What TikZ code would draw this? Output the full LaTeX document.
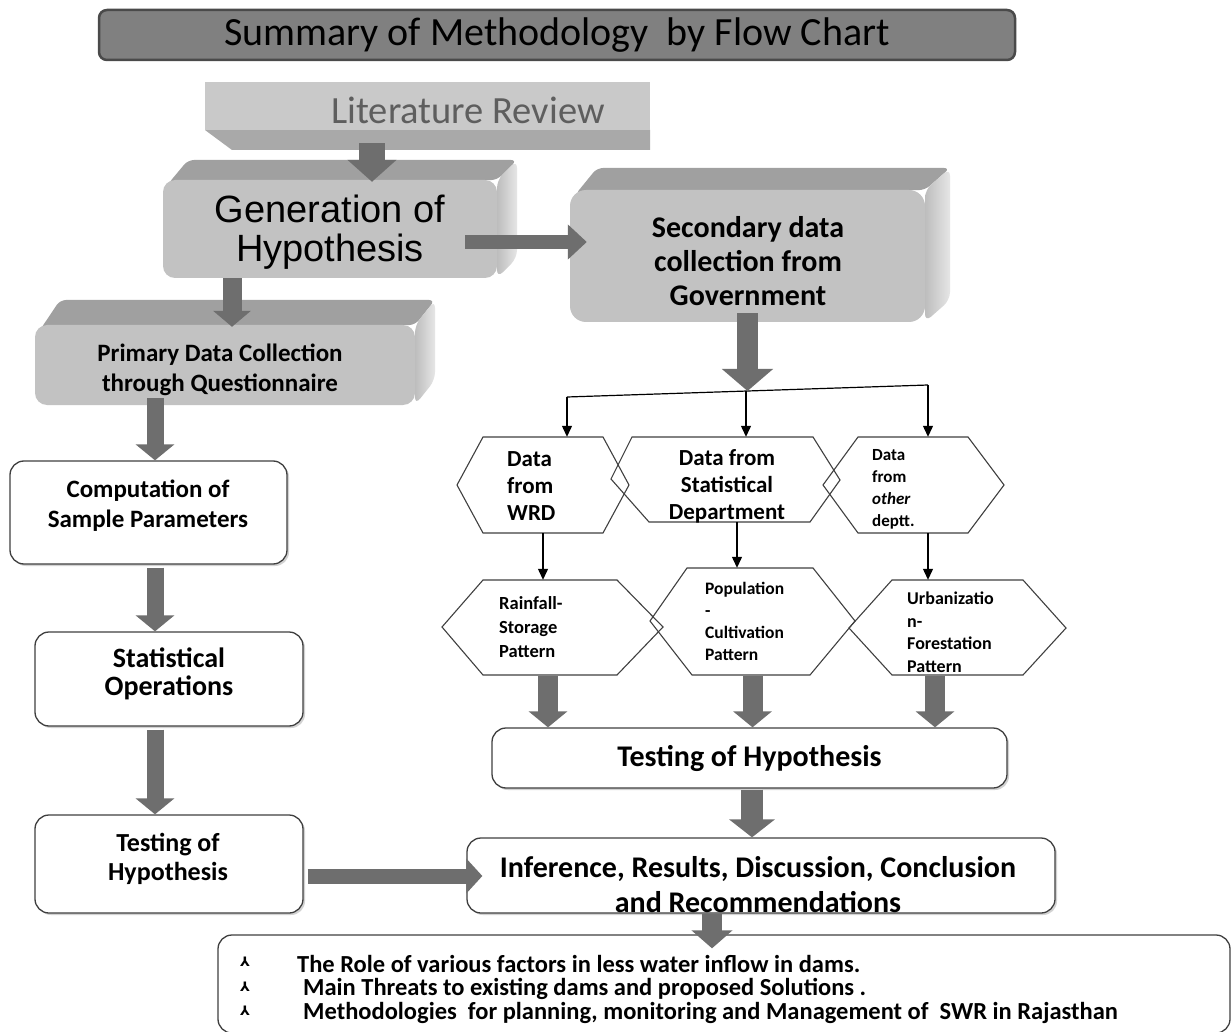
\documentclass[tikz,border=0pt]{standalone}
\usepackage{fontspec}
\setmainfont{Carlito}
\newfontfamily\arialfont{Liberation Sans}
\newfontfamily\symfont{DejaVu Sans}
\usetikzlibrary{arrows.meta,calc,shadows}
\definecolor{arrowgray}{HTML}{6E6E6E}
\definecolor{boxline}{HTML}{3F3F3F}
\definecolor{faceg}{HTML}{C2C2C2}
\definecolor{topg}{HTML}{A0A0A0}
\definecolor{sidel}{HTML}{BDBDBD}
\definecolor{sider}{HTML}{E6E6E6}
\definecolor{litface}{HTML}{C9C9C9}
\definecolor{litbevel}{HTML}{A9A9A9}
\definecolor{littext}{HTML}{5E5E5E}
\definecolor{titlefill}{HTML}{808080}
\definecolor{titleline}{HTML}{4A4A4A}
\begin{document}
\begin{tikzpicture}[x=1pt,y=-1pt,
  whitebox/.style={draw=boxline, line width=1.3pt, rounded corners=14pt, fill=white, inner sep=0pt,
     drop shadow={shadow xshift=2pt, shadow yshift=-2pt, fill=black!35, opacity=0.5}},
  frontface/.style={fill=faceg, rounded corners=12pt, inner sep=0pt},
  ghost/.style={inner sep=0pt},
  hexline/.style={draw=black!75, line width=1.1pt},
  thinarr/.style={draw=black, line width=1.2pt, -{Triangle[width=10pt,length=11pt]}},
  thinline/.style={draw=black, line width=1.2pt},
  barrow/.style n args={3}{draw=arrowgray, line width=#1pt, -{Triangle[width=#2pt,length=#3pt]}},
  bulletsym/.style={font=\symfont\bfseries\fontsize{13}{13}\selectfont},
  bottxt/.style={anchor=west, inner sep=0pt, font=\bfseries\fontsize{24.5}{26}\selectfont},
]
\useasboundingbox (0,0) rectangle (1232,1032);
\fill[white] (0,0) rectangle (1232,1032);

% ---------- title ----------
\node[draw=titleline, line width=2.5pt, fill=titlefill, rounded corners=8pt,
      minimum width=916pt, minimum height=50pt, inner sep=0pt,
      font=\fontsize{40}{44}\selectfont] (title) at (557,35) {Summary of Methodology\ \ by Flow Chart};

% ---------- literature review slab ----------
\fill[litbevel] (205,130) -- (650,130) -- (650,150) -- (232,150) -- cycle;
\node[fill=litface, minimum width=445pt, minimum height=48pt, inner sep=0pt] (lit) at (427.5,106) {};
\node[font=\fontsize{38.5}{40}\selectfont, text=littext] (litT) at (468,110) {Literature Review};

% ---------- Generation of hypothesis (3D) ----------
\fill[topg, rounded corners=6pt] (168,184) -- (188,160) -- (517,160) -- (497,180) -- cycle;
\shade[left color=sidel, right color=sider, rounded corners=8pt] (497,180) -- (517,160) -- (517,258) -- (497,278) -- cycle;
\node[frontface, minimum width=334pt, minimum height=98pt] (gen) at (330,229) {};
\node[font=\arialfont\fontsize{38}{39}\selectfont, align=center] (genT) at (330,232) {Generation of\\Hypothesis};

% ---------- Secondary data (3D) ----------
\fill[topg, rounded corners=6pt] (575,195) -- (597,168) -- (950,168) -- (925,190) -- cycle;
\shade[left color=sidel, right color=sider, rounded corners=8pt] (925,190) -- (950,168) -- (950,300) -- (925,322) -- cycle;
\node[frontface, minimum width=355pt, minimum height=132pt, rounded corners=16pt] (sec) at (747.5,256) {};
\node[align=center, font=\bfseries\fontsize{30}{34}\selectfont] (secT) at (748,261) {Secondary data\\collection from\\Government};

% ---------- Primary data (3D) ----------
\fill[topg, rounded corners=6pt] (40,330) -- (60,300) -- (435,300) -- (415,325) -- cycle;
\shade[left color=sidel, right color=sider, rounded corners=8pt] (415,325) -- (435,300) -- (435,380) -- (415,405) -- cycle;
\node[frontface, minimum width=380pt, minimum height=80pt] (prim) at (225,365) {};
\node[align=center, font=\bfseries\fontsize{25}{30}\selectfont] (primT) at (220,370) {Primary Data Collection\\through Questionnaire};

% ---------- left white boxes ----------
\node[whitebox, minimum width=277pt, minimum height=103pt] (comp) at (148.5,512.5) {};
\node[align=center, font=\bfseries\fontsize{25}{30}\selectfont] (compT) at (148,506) {Computation of\\Sample Parameters};

\node[whitebox, minimum width=268pt, minimum height=94pt] (stat) at (169,679) {};
\node[align=center, font=\bfseries\fontsize{28}{28}\selectfont] (statT) at (169,674) {Statistical\\Operations};

\node[whitebox, minimum width=268pt, minimum height=98pt] (testL) at (169,864) {};
\node[align=center, font=\bfseries\fontsize{26}{29}\selectfont] (testLT) at (168,859) {Testing of\\Hypothesis};

% ---------- right white boxes ----------
\node[whitebox, minimum width=515pt, minimum height=60pt, font=\bfseries\fontsize{30}{34}\selectfont] (testR) at (749.5,758) {Testing of Hypothesis};

\node[whitebox, minimum width=588pt, minimum height=75pt] (inf) at (761,875.5) {};
\node[align=center, font=\bfseries\fontsize{30}{35}\selectfont] (infT) at (758,885) {Inference, Results, Discussion, Conclusion\\and Recommendations};

\node[draw=boxline, line width=1.3pt, rounded corners=14pt, fill=white, inner sep=0pt,
      minimum width=1012pt, minimum height=98pt] (bot) at (724,984) {};
\node[bulletsym] (b1) at (245,962) {⅄};
\node[bulletsym] (b2) at (245,987) {⅄};
\node[bulletsym] (b3) at (245,1011) {⅄};
\node[bottxt] (l1) at (297,964) {The Role of various factors in less water inflow in dams.};
\node[bottxt] (l2) at (303,989) {Main Threats to existing dams and proposed Solutions .};
\node[bottxt] (l3) at (303,1013) {Methodologies\ \ for planning, monitoring and Management of\ \ SWR in Rajasthan};

% ---------- hexagons ----------
\node[ghost, minimum width=172pt, minimum height=96pt] (wrd) at (543,485) {};
\node[ghost, minimum width=230pt, minimum height=85pt] (sta) at (725,479.5) {};
\node[ghost, minimum width=181pt, minimum height=96pt] (oth) at (913.5,485) {};
\node[ghost, minimum width=221pt, minimum height=95pt] (rain) at (552.5,627.5) {};
\node[ghost, minimum width=205pt, minimum height=107pt] (pop) at (752.5,621.5) {};
\node[ghost, minimum width=217pt, minimum height=95pt] (urb) at (957.5,627.5) {};

\draw[hexline] (457,485) -- (483,437) -- (603,437) -- (629,485) -- (603,533) -- (483,533) -- cycle;
\draw[hexline] (611,479) -- (632,437) -- (813,437) -- (840,480) -- (810,522) -- (649,522) -- cycle;
\draw[hexline] (823,485) -- (858,437) -- (968,437) -- (1004,485) -- (968,533) -- (858,533) -- cycle;
\draw[hexline] (442,627) -- (483,580) -- (617,580) -- (663,627) -- (617,675) -- (483,675) -- cycle;
\draw[hexline] (650,621) -- (687,568) -- (813,568) -- (855,621) -- (810,675) -- (692,675) -- cycle;
\draw[hexline] (849,628) -- (892,580) -- (1023,580) -- (1066,628) -- (1023,675) -- (892,675) -- cycle;

\node[anchor=west, align=left, inner sep=0pt, font=\bfseries\fontsize{23}{27}\selectfont] (wrdT) at (507,486) {Data\\from\\WRD};
\node[align=center, inner sep=0pt, font=\bfseries\fontsize{23}{27}\selectfont] (staT) at (727,486) {Data from\\Statistical\\Department};
\node[anchor=west, align=left, inner sep=0pt, font=\bfseries\fontsize{17}{22}\selectfont] (othT) at (872,489) {Data\\from\\\textit{other}\\deptt.};
\node[anchor=west, align=left, inner sep=0pt, font=\bfseries\fontsize{18.5}{24}\selectfont] (rainT) at (499,627) {Rainfall-\\Storage\\Pattern};
\node[anchor=west, align=left, inner sep=0pt, font=\bfseries\fontsize{17.5}{22}\selectfont] (popT) at (705,621) {Population\\-\\Cultivation\\Pattern};
\node[anchor=west, align=left, inner sep=0pt, font=\bfseries\fontsize{18}{22.5}\selectfont] (urbT) at (907,632) {Urbanizatio\\n-\\Forestation\\Pattern};

% ---------- branch ----------
\coordinate (brL) at (567,397);
\coordinate (br) at (746,391);
\coordinate (brR) at (928,385);
\draw[thinline] (brL) -- (brR);
\draw[thinarr] (brL) -- (brL |- wrd.north);
\draw[thinarr] (br) -- (br |- sta.north);
\draw[thinarr] (brR) -- (brR |- oth.north);
\draw[thinarr] (wrd.south) -- (wrd.south |- rain.north);
\draw[thinarr] ([xshift=12pt]sta.south) -- ([xshift=-15.5pt]pop.north);
\draw[thinarr] ([xshift=14.5pt]oth.south) -- ([xshift=-29.5pt]urb.north);

% ---------- block arrows ----------
\draw[barrow={26}{48}{22}] ([xshift=-55.5pt,yshift=-13pt]lit.south) -- ([xshift=42pt,yshift=-2pt]gen.north);
\draw[barrow={14}{34}{19}] ([xshift=-32pt,yshift=-13pt]gen.east) -- ([xshift=17pt,yshift=14pt]sec.west);
\draw[barrow={19}{37}{16}] ([xshift=-98pt]gen.south) -- ([xshift=7pt,yshift=-2pt]prim.north);
\draw[barrow={17}{38}{16}] ([xshift=-70pt,yshift=7pt]prim.south) -- ([xshift=6.5pt]comp.north);
\draw[barrow={17}{38}{16}] ([xshift=6.5pt,yshift=-3pt]comp.south) -- ([xshift=-14pt]stat.north);
\draw[barrow={17}{38}{16}] ([xshift=-14pt,yshift=-3pt]stat.south) -- ([xshift=-14pt]testL.north);
\draw[barrow={15}{34}{16}] ([xshift=4pt,yshift=-12pt]testL.east) -- ([xshift=16pt,yshift=-0.5pt]inf.west);
\draw[barrow={21}{50}{22}] ([yshift=9pt]sec.south) -- (sec.south |- br);
\draw[barrow={20}{38}{16}] ([xshift=-4.5pt,yshift=-1pt]rain.south) -- ([xshift=-201.5pt]testR.north);
\draw[barrow={20}{38}{16}] ([yshift=-1pt]pop.south) -- ([xshift=3pt]testR.north);
\draw[barrow={20}{38}{16}] ([xshift=-22.5pt,yshift=-1pt]urb.south) -- ([xshift=185.5pt]testR.north);
\draw[barrow={22}{45}{18}] ([xshift=2.5pt,yshift=-1pt]testR.south) -- ([xshift=-9pt]inf.north);
\draw[barrow={20}{40}{18}] ([xshift=-49pt]inf.south) -- ([xshift=-12pt,yshift=-14pt]bot.north);
\end{tikzpicture}
\end{document}
